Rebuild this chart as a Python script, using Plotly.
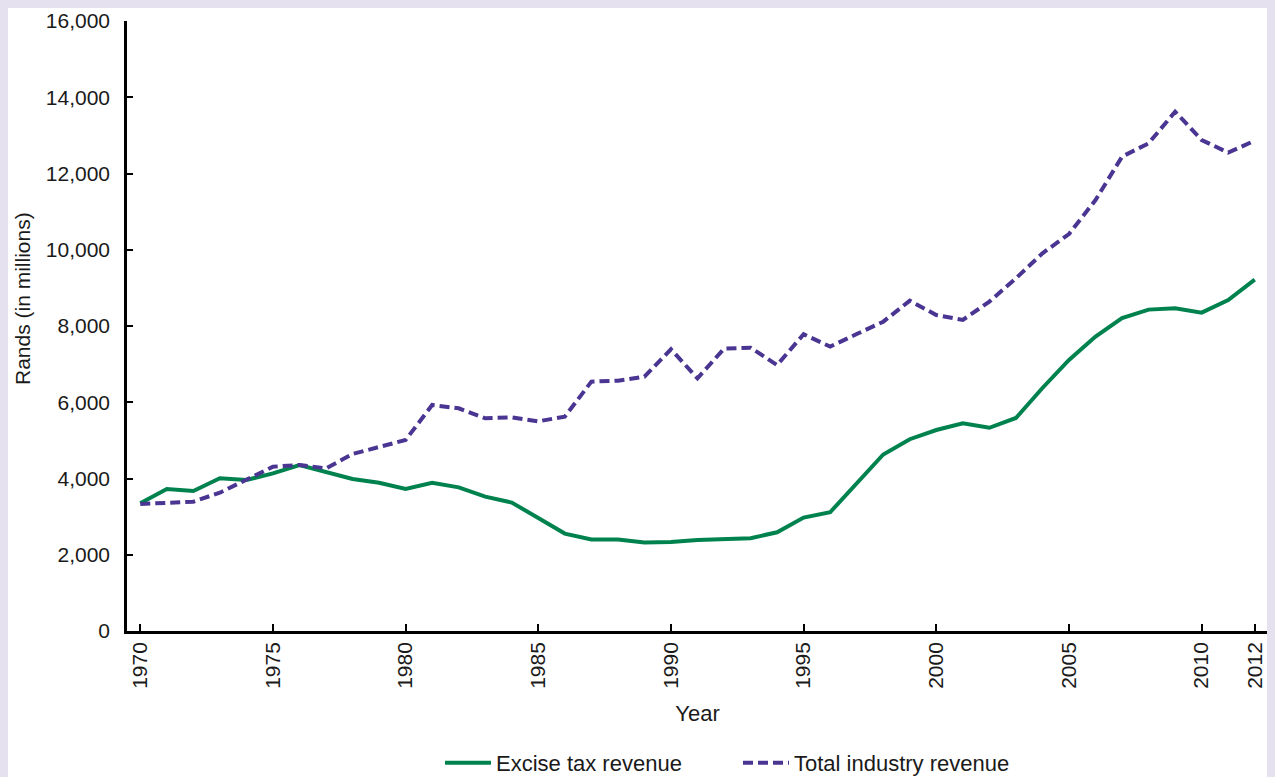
import plotly.graph_objects as go

years = list(range(1970, 2013))
excise = [3350, 3725, 3672, 4005, 3960, 4136, 4354, 4180, 3987, 3890,
          3725, 3890, 3768, 3523, 3370, 2964, 2555, 2400, 2400, 2320,
          2334, 2387, 2413, 2435, 2590, 2975, 3115, 3865, 4630, 5030,
          5272, 5450, 5330, 5587, 6374, 7110, 7725, 8205, 8430, 8468,
          8350, 8682, 9215]
total = [3331, 3366, 3392, 3628, 3960, 4310, 4354, 4267, 4643, 4835,
         5010, 5928, 5841, 5579, 5605, 5500, 5622, 6540, 6566, 6671,
         7389, 6627, 7406, 7432, 6977, 7783, 7458, 7790, 8113, 8664,
         8288, 8160, 8640, 9251, 9907, 10413, 11305, 12442, 12792, 13622,
         12879, 12547, 12861]
xticks = [1970, 1975, 1980, 1985, 1990, 1995, 2000, 2005, 2010, 2012]
yticks = [0, 2000, 4000, 6000, 8000, 10000, 12000, 14000, 16000]

FONT = "Liberation Sans, Arial, sans-serif"
GREEN = "#00824f"
PURPLE = "#4a3592"
LAVENDER = "#e6e1ee"

fig = go.Figure()
fig.add_trace(go.Scatter(x=years, y=excise, mode="lines", name="Excise tax revenue",
                         line=dict(color=GREEN, width=4)))
fig.add_trace(go.Scatter(x=years, y=total, mode="lines", name="Total industry revenue",
                         line=dict(color=PURPLE, width=4, dash="10px,5px")))

W, H = 1275, 777
OFF = 8  # page offset of the figure inside the browser page
# plot area in page pixels
PL, PR, PT, PB = 127, 1268, 21, 631
ml, mt = PL - OFF, PT - OFF
mr = W - (PR - OFF)
mb = H - (PB - OFF)
pw, ph = W - ml - mr, H - mt - mb

def px2x(p):
    return (p - OFF - ml) / pw

def px2y(p):
    return (H - mb - (p - OFF)) / ph

fig.add_shape(type="rect", xref="paper", yref="paper",
              x0=px2x(OFF), x1=px2x(1272), y0=px2y(820), y1=px2y(OFF),
              fillcolor="white", line=dict(width=0), layer="below")

fig.add_annotation(text="Rands (in millions)", textangle=-90, showarrow=False,
                   xref="paper", yref="paper", x=px2x(22), y=px2y(299),
                   xanchor="center", yanchor="middle", font=dict(size=21))

fig.update_layout(
    width=W, height=H,
    margin=dict(l=ml, r=mr, t=mt, b=mb, pad=0, autoexpand=False),
    paper_bgcolor=LAVENDER,
    plot_bgcolor="rgba(0,0,0,0)",
    font=dict(family=FONT, size=21, color="#1a1a1a"),
    showlegend=True,
    legend=dict(orientation="h", x=px2x(440), xanchor="left", y=px2y(763), yanchor="middle",
                font=dict(size=22), itemwidth=46, entrywidth=237, bgcolor="rgba(0,0,0,0)"),
    xaxis=dict(range=[1969.5, 2012.5], tickvals=xticks, tickangle=-90,
               ticks="inside", ticklen=7, tickwidth=2, tickcolor="black",
               showline=True, linecolor="black", linewidth=2.5, showgrid=False,
               zeroline=False, tickfont=dict(size=21), automargin=False,
               title=dict(text="Year", font=dict(size=22), standoff=18)),
    yaxis=dict(range=[0, 16000], tickvals=yticks, tickformat=",",
               ticks="inside", ticklen=6, tickwidth=2, tickcolor="black",
               showline=True, linecolor="black", linewidth=2.5, showgrid=False,
               zeroline=False, tickfont=dict(size=21), automargin=False,
               ticklabelstandoff=10),
)

fig.write_html("out.html", post_script="document.body.style.background='" + LAVENDER + "';")
